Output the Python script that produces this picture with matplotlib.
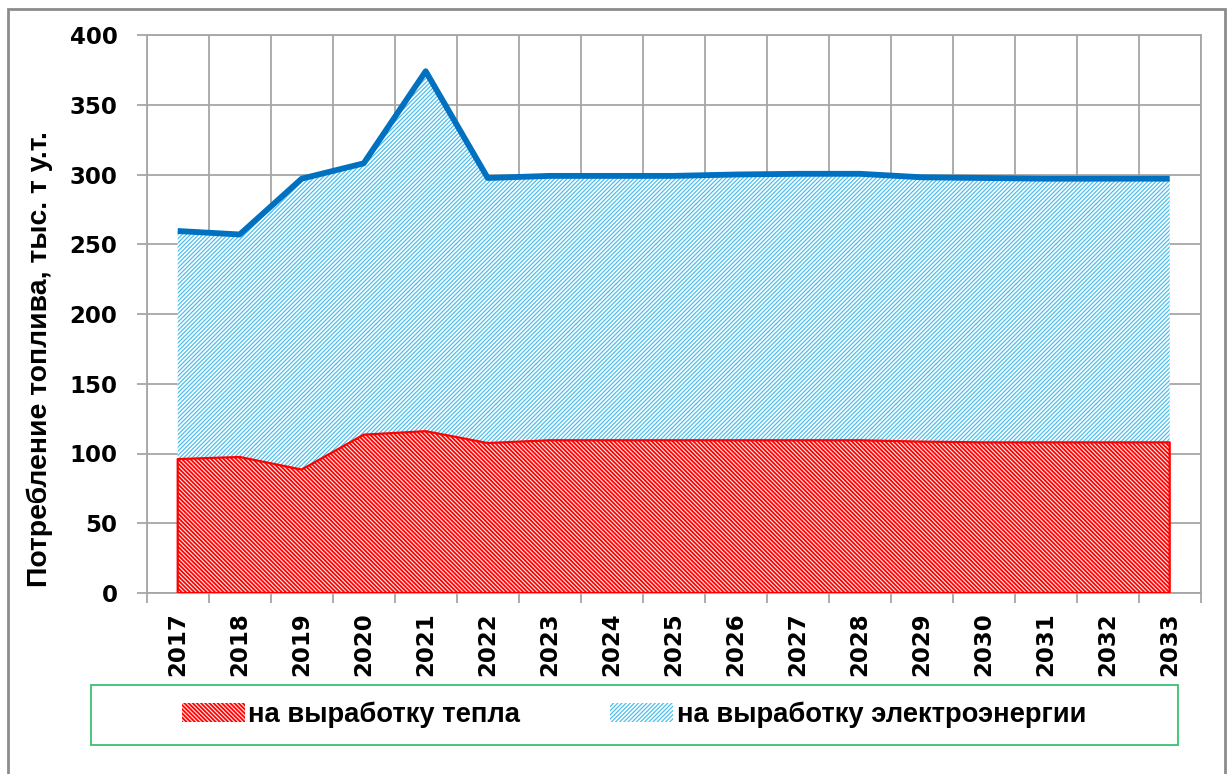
import matplotlib
matplotlib.use("Agg")
import matplotlib.pyplot as plt
from matplotlib.patches import Rectangle, Patch
import numpy as np

years = ["2017", "2018", "2019", "2020", "2021", "2022", "2023", "2024", "2025",
         "2026", "2027", "2028", "2029", "2030", "2031", "2032", "2033"]
heat = [96, 97.5, 88.5, 113.5, 116, 107.5, 109.5, 109.5, 109.5, 109.5, 109.5, 109.5,
        108.5, 108, 108, 108, 108]
electricity = [163.5, 159.5, 208.5, 194.5, 258, 190, 189.5, 189.5, 189.5, 190.5, 191,
               191, 189.5, 189.5, 189, 189, 189]
yticks = [0, 50, 100, 150, 200, 250, 300, 350, 400]
ylabel = "Потребление топлива, тыс. т у.т."
legend_labels = ["на выработку тепла", "на выработку электроэнергии"]

RED = "#FF0000"
RED_STRIPE = "#FFE6E6"
BLUE_H = "#45BDEE"
LINE = "#0070C0"
GRID = "#A6A6A6"
RED_HATCH = "\\" * 8
BLUE_HATCH = "/" * 8

plt.rcParams["hatch.linewidth"] = 0.85

W, H = 1229, 774
fig = plt.figure(figsize=(W / 100, H / 100), dpi=100)
ax = fig.add_axes([146.7 / W, 1 - 593 / H, (1200.7 - 146.7) / W, (593 - 35) / H])

x = np.arange(len(years))
h = np.array(heat)
tot = h + np.array(electricity)

# heat area: red with white stripes
ax.fill_between(x, 0, h, facecolor=RED, edgecolor="none", linewidth=0, zorder=2)
ax.fill_between(x, 0, h, facecolor="none", edgecolor=RED_STRIPE, hatch=RED_HATCH,
                linewidth=0, zorder=3)
ax.fill_between(x, 0, h, facecolor="none", edgecolor=RED, linewidth=1.6, zorder=4)
# electricity area: white with blue stripes
ax.fill_between(x, h, tot, facecolor="white", edgecolor=BLUE_H, hatch=BLUE_HATCH,
                linewidth=0, zorder=2)
ax.plot(x, tot, color=LINE, linewidth=4.2, solid_joinstyle="round",
        solid_capstyle="butt", zorder=5)

ax.set_xlim(-0.5, len(years) - 0.5)
ax.set_ylim(0, 400)
ax.set_yticks(yticks)
ax.set_yticklabels([str(v) for v in yticks], fontsize=16.5, fontweight="bold",
                   family="DejaVu Sans")
ax.set_xticks(x)
ax.set_xticklabels(years, rotation=90, fontsize=16.5, fontweight="bold",
                   family="DejaVu Sans")
ax.set_xticks(np.arange(-0.5, len(years), 1), minor=True)
ax.tick_params(axis="x", which="major", length=0, pad=14)
ax.tick_params(axis="x", which="minor", length=7, width=1.3, color=GRID, direction="out")
ax.tick_params(axis="y", which="major", length=7, width=1.3, color=GRID, pad=14)

ax.grid(True, axis="y", which="major", color=GRID, linewidth=1.3, zorder=0)
ax.grid(True, axis="x", which="minor", color=GRID, linewidth=1.3, zorder=0)
ax.set_axisbelow(True)
for s in ax.spines.values():
    s.set_color(GRID)
    s.set_linewidth(1.3)

fig.text(40 / W, 1 - 359 / H, ylabel, rotation=90, ha="center", va="center",
         fontsize=20.4, fontweight="bold", family="Liberation Sans")

# legend box
fig.add_artist(Rectangle((91 / W, 1 - 745 / H), (1178 - 91) / W, 60 / H,
                         transform=fig.transFigure, facecolor="none",
                         edgecolor="#3CC070", linewidth=1.3))
handles = [Patch(facecolor=RED, edgecolor=RED_STRIPE, hatch=RED_HATCH, linewidth=0),
           Patch(facecolor="white", edgecolor=BLUE_H, hatch=BLUE_HATCH, linewidth=0)]
fig.legend(handles, legend_labels, loc="center", bbox_to_anchor=(634 / W, 1 - 715 / H),
           ncol=2, frameon=False, prop={"family": "Liberation Sans", "weight": "bold",
                                        "size": 19.7},
           handlelength=2.3, handleheight=0.7, handletextpad=0.12, columnspacing=3.3)

# outer border
fig.add_artist(Rectangle((8 / W, -0.05), (1225 - 8) / W, 1.05 - 9 / H,
                         transform=fig.transFigure, facecolor="none",
                         edgecolor="#8C8C8C", linewidth=2))

fig.savefig("out.png", dpi=100)
